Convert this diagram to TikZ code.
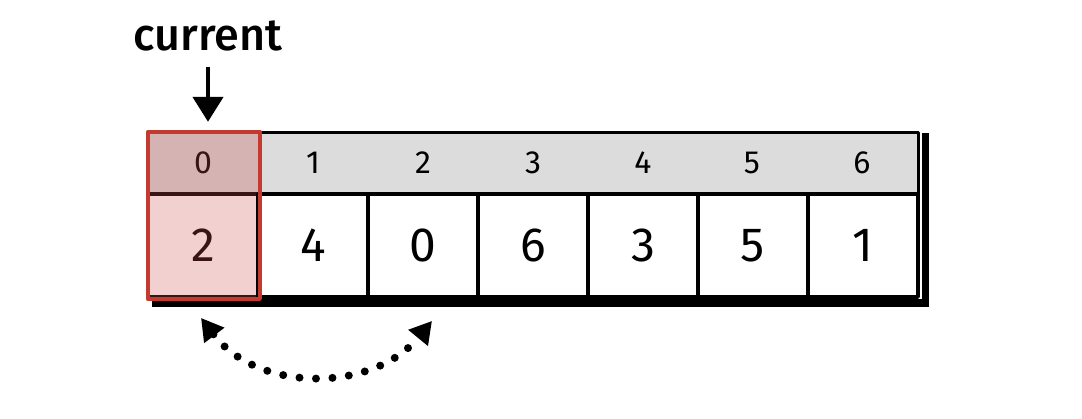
\documentclass[tikz,border=0pt]{standalone}
\usepackage{fontspec}
\setmainfont{Fira Sans}
\newfontfamily\curfont{Fira Sans}[UprightFont=* Medium]
\usetikzlibrary{arrows.meta,positioning,calc}
\definecolor{hdrgray}{HTML}{DCDCDC}
\definecolor{hdrred}{HTML}{D6B3B3}
\definecolor{cellred}{HTML}{F2D0D0}
\definecolor{redline}{HTML}{C23A30}
\definecolor{darkred}{HTML}{3A1414}

\begin{document}
\begin{tikzpicture}[x=1pt,y=-1pt,line join=round,
  hbar/.style={draw=black,line width=3pt,fill=hdrgray,minimum width=770pt,minimum height=62pt,inner sep=0pt},
  hlabel/.style={minimum width=110pt,minimum height=62pt,inner sep=0pt,font=\fontsize{32}{32}\selectfont},
  vcell/.style={draw=black,line width=3.8pt,fill=white,minimum width=110pt,minimum height=103pt,inner sep=0pt,font=\fontsize{48}{48}\selectfont}]
  \useasboundingbox (0,0) rectangle (1082,418);
%%
  % Node: bar
  \node[hbar] (bar) at (533,163) {};
  % Node: label
  \node[font=\curfont\fontsize{45}{45}\selectfont] (cur) at (208,36) {current};
%%
  % Node: h0 .. h6
  \node[hlabel,fill=hdrred,text=darkred] (h0) at (203,163) {0};
  \node[hlabel] (h1) at (313,163) {1};
  \node[hlabel] (h2) at (423,163) {2};
  \node[hlabel] (h3) at (533,163) {3};
  \node[hlabel] (h4) at (643,163) {4};
  \node[hlabel] (h5) at (752,163) {5};
  \node[hlabel] (h6) at (862,163) {6};
  % Node: v0 .. v6
  \node[vcell,fill=cellred,draw=darkred,text=darkred] (v0) at (203,245.5) {2};
  \node[vcell] (v1) at (313,245.5) {4};
  \node[vcell] (v2) at (423,245.5) {0};
  \node[vcell] (v3) at (533,245.5) {6};
  \node[vcell] (v4) at (643,245.5) {3};
  \node[vcell] (v5) at (753,245.5) {5};
  \node[vcell] (v6) at (863,245.5) {1};
  % shadow
  \fill ([shift={(2,2)}]bar.north east) rectangle ([shift={(9,8)}]v6.south east);
  \fill ([shift={(6,0)}]v0.south west) rectangle ([shift={(9,8)}]v6.south east);
  % highlight
  \draw[redline,line width=3.8pt] (h0.north west) rectangle (v0.south east);
%%
  % Edge: cur -> h0
  \draw[line width=4.5pt,-{Triangle[length=25pt,width=30pt]}] ([yshift=-12pt]cur.south) -- ([yshift=10pt]cur.south |- h0.north);
  % Edge: v0 <-> v2
  \draw[line width=8pt,line cap=round,dash pattern=on 0pt off 16.5pt,
        {Triangle[length=22pt,width=24pt]}-{Triangle[length=22pt,width=24pt]}]
    ([shift={(-2,19)}]v0.south) .. controls ([shift={(55,94)}]v0.south) and ([shift={(-50,94)}]v2.south) .. ([shift={(9,22)}]v2.south);
%
\end{tikzpicture}
\end{document}
